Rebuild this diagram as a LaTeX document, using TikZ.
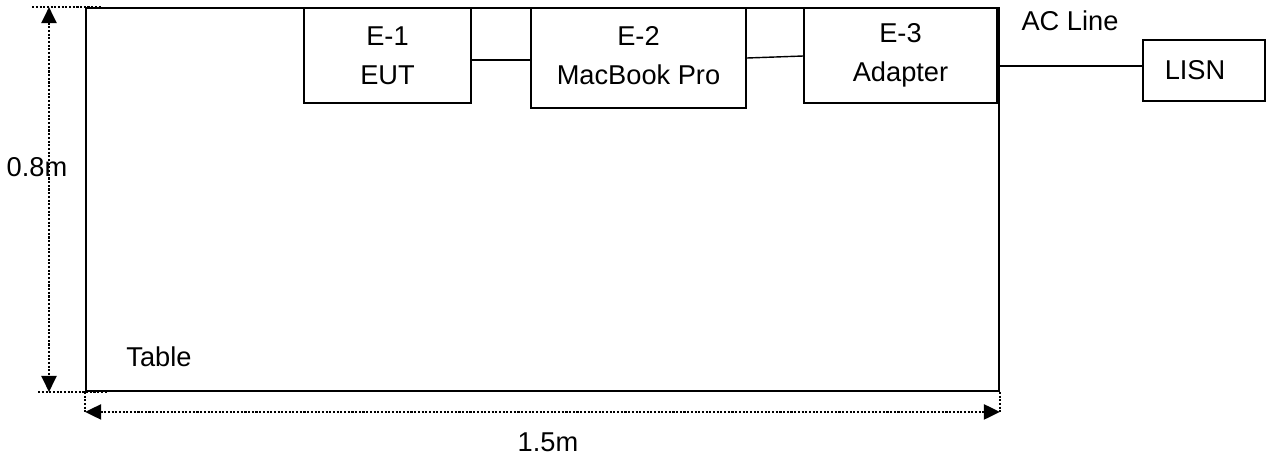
\documentclass[tikz,border=0pt]{standalone}
\usepackage{fontspec}
\setmainfont{Liberation Sans}
\usepackage{tikz}
\usetikzlibrary{arrows.meta, positioning, calc}

\begin{document}
\begin{tikzpicture}[
    x=0.02cm, y=-0.02cm,
    font=\fontsize{15.5}{22}\selectfont,
    devbox/.style={draw, line width=1pt, minimum height=1.9cm, align=center, inner sep=0pt},
    dimline/.style={line width=1.4pt, dash pattern=on 1.2pt off 0.9pt},
    >={Triangle[length=0.32cm, width=0.3cm]}
]
\useasboundingbox (0,0) rectangle (1266,464);

% table and equipment
\node[draw, line width=1.1pt, minimum width=18.26cm, minimum height=7.66cm] (table) at (542.5,199.5) {};
\node[devbox, minimum width=3.34cm] (e1) at (387.5,55.5) {E-1\\EUT};
\node[devbox, minimum width=4.3cm, minimum height=2cm, text depth=0.1cm] (e2) at (638.5,58) {E-2\\MacBook Pro};
\node[devbox, minimum width=3.86cm] (e3) at (900.5,55.5) {E-3\\Adapter};
\node[devbox, minimum width=2.44cm, minimum height=1.22cm] (lisn) at (1204,70.5) {LISN\hspace{0.36cm}};

\node (acline) at (1070,21) {AC Line};
\node (tablelbl) at (159,357) {Table};
\node (height) at (37,167) {0.8m};
\node (width) at (548,442) {1.5m};

% cables
\draw[line width=0.8pt] (e1.east |- 0,60) -- (e2.west |- 0,60);
\draw[line width=0.8pt] (e2.east |- 0,58) -- (e3.west |- 0,56);
\draw[line width=0.8pt] (e3.east |- 0,66) -- (lisn.west |- 0,66);

% dimensions
\draw[dimline] ($(table.north west)+(-53,0)$) -- ($(table.north west)+(17,0)$);
\draw[dimline] ($(table.south west)+(-47,0)$) -- ($(table.south west)+(22,0)$);
\draw[dimline, <->] (table.north west -| 49,0) -- (table.south west -| 49,0);
\draw[dimline] (table.south west) -- ($(table.south west)+(0,20)$);
\draw[dimline] (table.south east) -- ($(table.south east)+(0,20)$);
\draw[dimline, <->] ($(table.south west)+(0,20)$) -- ($(table.south east)+(0,20)$);
\end{tikzpicture}
\end{document}
